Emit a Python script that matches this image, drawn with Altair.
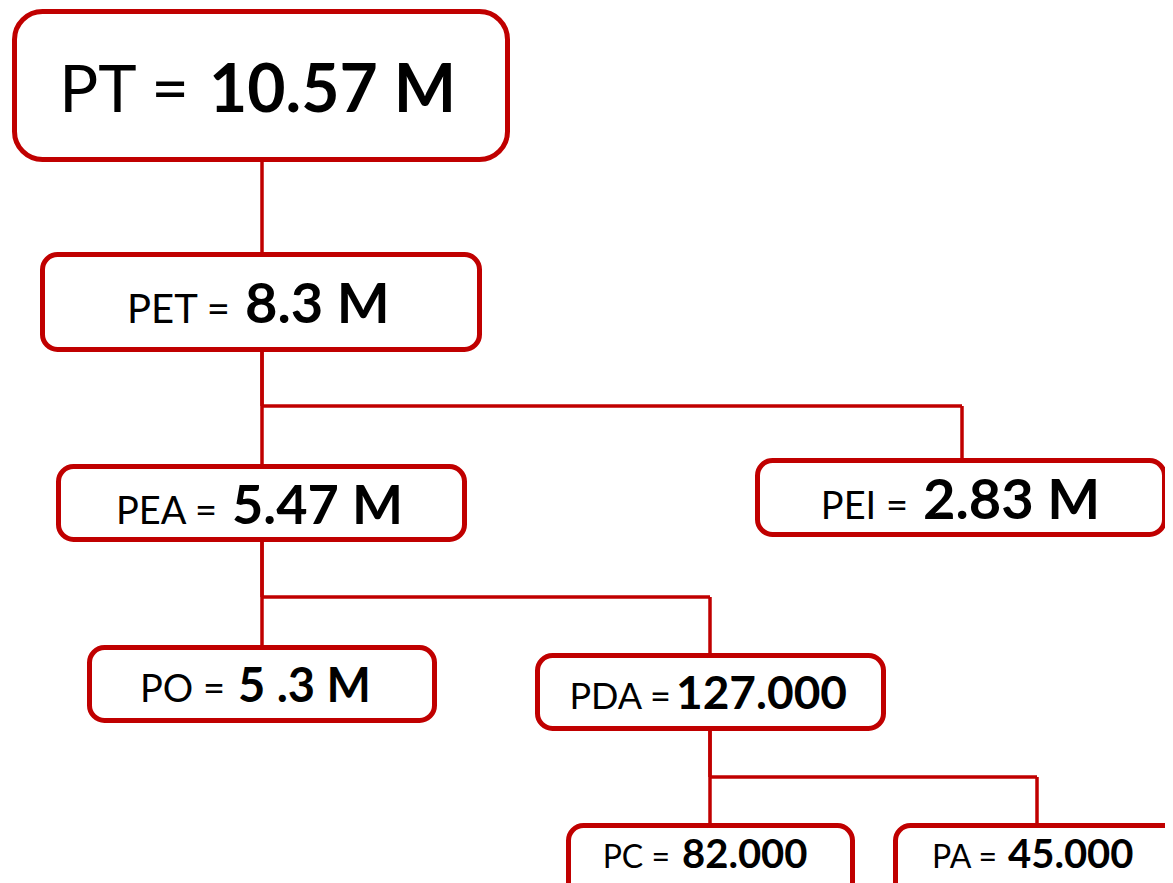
import altair as alt
import pandas as pd

# ---- data ----
nodes = ["PT", "PET", "PEA", "PEI", "PO", "PDA", "PC", "PA"]
labels = ["PT =", "PET =", "PEA =", "PEI =", "PO =", "PDA =", "PC =", "PA ="]
values = ["10.57 M", "8.3 M", "5.47 M", "2.83 M", "5 .3 M", "127.000", "82.000", "45.000"]
parents = ["", "PT", "PET", "PET", "PEA", "PEA", "PDA", "PDA"]

# ---- layout (page pixels) ----
box_x1 = [14.5, 42.5, 58.5, 757.5, 89.5, 537.5, 568.5, 895.5]
box_x2 = [507.5, 479.5, 464.5, 1164.5, 434.5, 883.5, 852.5, 1220]
box_y1 = [11.5, 254.5, 466.5, 460.5, 647.5, 655.5, 825.5, 825.5]
box_y2 = [159.5, 349.5, 539.5, 534.5, 720.5, 728.5, 920, 920]
anchor_x = [262, 262, 262, 962, 262, 710, 710, 1037]
elbow_y = [None, 300, 406, 406, 597, 597, 777, 777]
label_end = [189, 230, 217, 908, 225, 671, 670, 997]
value_start = [209, 245, 232, 923, 238, 676, 682, 1008]
baseline = [112, 323, 524, 519, 702, 709, 868, 868]
label_size = [65, 40, 38, 38, 38, 36, 32, 32]
value_size = [66, 56, 54, 56, 47, 46, 40, 40]
radius = [28, 15, 15, 15, 15, 15, 15, 15]

RED = "#C00000"
W, H = 1157, 875
FONT = "Lato"

boxes = pd.DataFrame({
    "node": nodes, "label": labels, "value": values,
    "x1": box_x1, "x2": box_x2, "y1": box_y1, "y2": box_y2,
    "lx": label_end, "vx": value_start, "by": baseline,
    "ls": label_size, "vs": value_size, "r": radius,
})

idx = {n: i for i, n in enumerate(nodes)}
segs = []
for i, p in enumerate(parents):
    if not p:
        continue
    j = idx[p]
    px, cx = anchor_x[j], anchor_x[i]
    ey = elbow_y[i]
    segs.append({"x": px, "x2": px, "y": box_y2[j], "y2": ey})
    if cx != px:
        segs.append({"x": px, "x2": cx, "y": ey, "y2": ey})
    segs.append({"x": cx, "x2": cx, "y": ey, "y2": box_y1[i]})
segs = pd.DataFrame(segs)

xs = alt.Scale(domain=[8, 8 + W], nice=False, zero=False)
ys = alt.Scale(domain=[8, 8 + H], reverse=True, nice=False, zero=False)

lines = alt.Chart(segs).mark_rule(color=RED, strokeWidth=3.5, clip=True).encode(
    x=alt.X("x:Q", scale=xs, axis=None),
    x2="x2:Q",
    y=alt.Y("y:Q", scale=ys, axis=None),
    y2="y2:Q",
)

def box_layer(r, flt):
    return alt.Chart(boxes).transform_filter(flt).mark_rect(
        fill="white", stroke=RED, strokeWidth=5, cornerRadius=r, clip=True
    ).encode(
        x=alt.X("x1:Q", scale=xs, axis=None),
        x2="x2:Q",
        y=alt.Y("y1:Q", scale=ys, axis=None),
        y2="y2:Q",
    )

big_box = box_layer(28, alt.datum.r == 28)
small_box = box_layer(15, alt.datum.r == 15)

label_text = alt.Chart(boxes).mark_text(
    align="right", baseline="alphabetic", font=FONT, fontWeight="normal", color="black"
).encode(
    x=alt.X("lx:Q", scale=xs, axis=None),
    y=alt.Y("by:Q", scale=ys, axis=None),
    size=alt.Size("ls:Q", scale=None, legend=None),
    text="label:N",
)

value_text = alt.Chart(boxes).mark_text(
    align="left", baseline="alphabetic", font=FONT, fontWeight="bold", color="black"
).encode(
    x=alt.X("vx:Q", scale=xs, axis=None),
    y=alt.Y("by:Q", scale=ys, axis=None),
    size=alt.Size("vs:Q", scale=None, legend=None),
    text="value:N",
)

chart = alt.layer(lines, big_box, small_box, label_text, value_text).properties(
    width=W, height=H, padding=0, background="white",
    autosize=alt.AutoSizeParams(type="none"),
).configure_view(strokeWidth=0, strokeOpacity=0)

chart.save("out.html", embed_options={"renderer": "svg", "actions": False})
